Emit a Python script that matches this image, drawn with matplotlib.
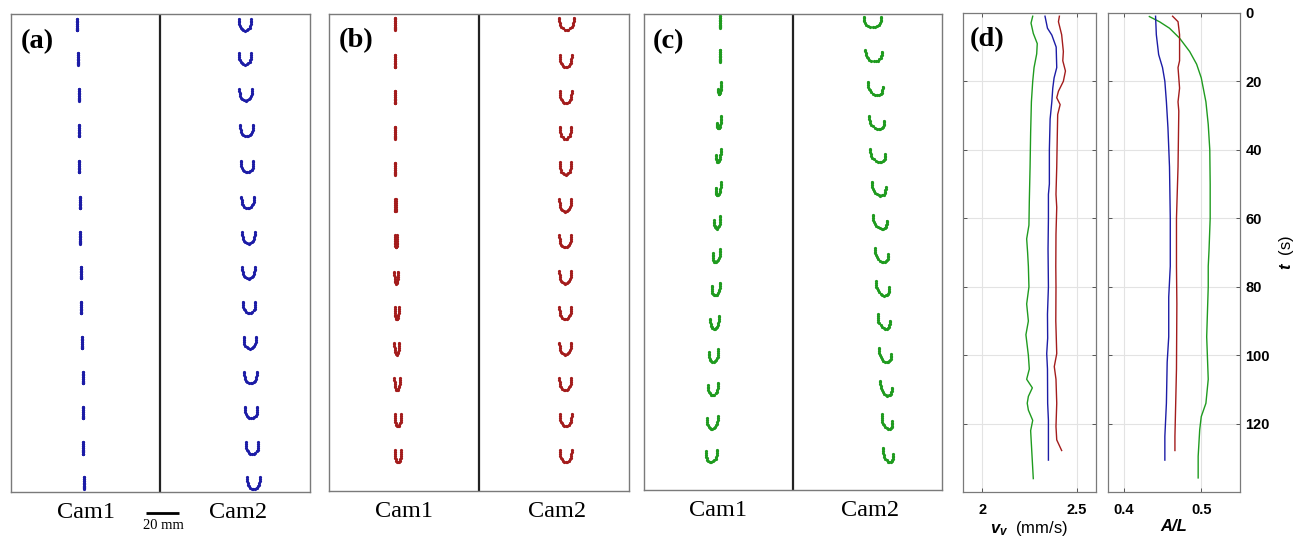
import numpy as np
import matplotlib
matplotlib.use('Agg')
import matplotlib.pyplot as plt

plt.rcParams['mathtext.fontset'] = 'custom'
plt.rcParams['mathtext.it'] = 'Liberation Sans:italic:bold'
plt.rcParams['mathtext.rm'] = 'Liberation Sans'

# unit fiber template (front view of the U), x in [-1, 1], y from tips (0) to bottom (1)
u_x = [-1.00, -1.00, -0.99, -0.95, -0.86, -0.72, -0.52, -0.27, 0.00,
       0.27, 0.52, 0.72, 0.86, 0.95, 0.99, 1.00, 1.00]
u_y = [0.00, 0.14, 0.30, 0.46, 0.62, 0.76, 0.88, 0.97, 1.00,
       0.97, 0.88, 0.76, 0.62, 0.46, 0.30, 0.14, 0.00]

# snapshots, positions in mm (x from panel left, y from panel top)
a_y = [6.5, 27.3, 49.1, 70.7, 92.5, 114.3, 135.8, 157.0, 178.0, 199.4, 220.6, 241.8, 263.4, 284.6]
a_x1 = [39.8, 40.4, 40.8, 41.0, 41.2, 41.5, 41.8, 42.1, 42.4, 42.8, 43.3, 43.5, 43.6, 44.1]
a_x2 = [141.8, 141.8, 142.2, 142.7, 143.1, 143.4, 143.9, 143.9, 144.3, 144.7, 145.1, 145.5, 146.1, 146.9]
a_w1, a_h1, a_t1 = 0.0, 6.9, 0.0
a_w2, a_h2, a_t2 = 7.6, 7.1, 0.0

b_y = [6.1, 28.8, 50.7, 72.3, 94.1, 116.4, 138.2, 160.2, 181.8, 203.4, 225.0, 246.8, 268.7]
b_x1 = [40.0, 40.0, 40.0, 40.0, 40.0, 40.0, 40.4, 40.4, 40.8, 40.8, 41.0, 41.5, 41.5]
b_w1 = [0.0, 0.0, 0.0, 0.0, 0.0, 0.8, 1.6, 2.0, 2.4, 2.8, 3.2, 3.6, 4.0]
b_x2 = [143.4, 143.0, 143.0, 142.8, 142.8, 142.6, 142.6, 142.6, 142.6, 142.6, 142.6, 143.0, 143.0]
b_w2 = [8.8, 6.9, 6.9, 6.9, 6.9, 6.9, 6.9, 6.9, 6.9, 6.9, 6.9, 6.9, 6.9]
b_h1, b_t1 = 7.3, 0.0
b_h2, b_t2 = 7.5, 0.0

c_y = [4.8, 25.6, 45.9, 66.7, 86.9, 107.1, 127.3, 147.7, 167.9, 188.1, 208.5, 228.7, 249.1, 269.3]
c_x1 = [46.1, 46.1, 46.1, 45.7, 45.3, 45.1, 44.6, 44.0, 43.6, 43.0, 42.4, 42.0, 41.6, 41.0]
c_w1 = [0.0, 0.0, 1.8, 2.4, 2.8, 3.2, 3.8, 4.5, 4.9, 5.3, 5.7, 5.9, 6.3, 6.9]
c_h1 = [6.9, 6.9, 4.5, 5.0, 5.5, 6.0, 6.3, 6.5, 6.8, 7.0, 7.0, 7.0, 7.0, 7.0]
c_t1 = [0.0, 0.0, -2.0, -2.0, -1.8, -1.6, -1.4, -1.2, -1.0, -0.9, -0.8, -0.7, -0.6, -0.5]
c_x2 = [139.0, 139.6, 140.6, 141.4, 142.0, 142.6, 143.4, 144.4, 145.0, 145.7, 146.5, 147.1, 147.7, 148.3]
c_w2 = [10.5, 9.9, 8.9, 8.9, 8.9, 8.5, 8.3, 8.1, 7.7, 7.3, 7.3, 6.9, 6.5, 6.1]
c_h2 = 6.5
c_t2 = [0.0, 0.5, 1.5, 1.5, 1.6, 1.6, 1.7, 1.8, 1.8, 1.9, 1.9, 2.0, 2.0, 2.0]

# (d) time series
t_vv_blue = [1, 4.5, 6.5, 10, 16, 19, 22, 26, 31, 40, 50, 53, 60, 69, 80, 88, 95, 99.5, 104, 114, 119, 130.6]
vv_blue = [2.332, 2.345, 2.368, 2.391, 2.394, 2.380, 2.373, 2.368, 2.359, 2.355, 2.355, 2.350, 2.350,
           2.348, 2.350, 2.345, 2.346, 2.341, 2.345, 2.346, 2.350, 2.350]
t_vv_red = [1, 2.6, 6.4, 11.3, 14, 17, 20, 22.9, 24.8, 26.8, 29.7, 35.5, 45, 53, 56.8, 64.6, 74, 80,
            90, 99.5, 103.3, 107, 114, 120.8, 124.7, 127.8]
vv_red = [2.408, 2.403, 2.420, 2.429, 2.426, 2.440, 2.429, 2.403, 2.394, 2.412, 2.399, 2.397, 2.394,
          2.390, 2.394, 2.390, 2.389, 2.390, 2.389, 2.394, 2.381, 2.390, 2.394, 2.390, 2.394, 2.420]
t_vv_green = [1, 3, 6, 9, 12, 16, 20, 26, 35, 45, 55, 62, 66, 70, 74, 80, 85, 90, 94, 100, 104, 107,
              109.5, 112, 114, 116, 119, 122, 128, 136]
vv_green = [2.267, 2.258, 2.270, 2.291, 2.288, 2.274, 2.267, 2.260, 2.256, 2.253, 2.249, 2.247, 2.235,
            2.240, 2.244, 2.247, 2.235, 2.244, 2.231, 2.244, 2.249, 2.235, 2.265, 2.244, 2.238, 2.244,
            2.267, 2.256, 2.262, 2.270]

t_al_blue = [1, 6.4, 12.2, 16, 20, 26, 33.6, 45, 60, 74, 83, 94.6, 102, 114, 123.7, 130.6]
al_blue = [0.441, 0.442, 0.445, 0.450, 0.453, 0.455, 0.457, 0.459, 0.460, 0.460, 0.458, 0.458, 0.456,
           0.455, 0.453, 0.453]
t_al_red = [1, 2.6, 6.4, 14, 16, 22, 26, 28.7, 45, 60, 74, 85, 104, 114, 123.7, 127.8]
al_red = [0.463, 0.470, 0.472, 0.472, 0.470, 0.472, 0.470, 0.471, 0.470, 0.468, 0.468, 0.4685, 0.468,
          0.467, 0.466, 0.466]
t_al_green = [1.1, 2.6, 4.5, 7.4, 11.3, 15, 19, 26, 32.6, 40, 50, 60, 69.4, 74, 80, 94.6, 107, 114,
              117.9, 121.7, 129.5, 135.8]
al_green = [0.433, 0.446, 0.459, 0.472, 0.485, 0.494, 0.500, 0.506, 0.509, 0.511, 0.5115, 0.5115, 0.510,
            0.509, 0.509, 0.507, 0.509, 0.506, 0.500, 0.498, 0.496, 0.496]

blue = '#1c1ca6'
red = '#a31c1c'
green = '#1f9b1f'

serif = 'Liberation Serif'
sans = 'Liberation Sans'


def draw_fiber(ax, cx, cy, w, h, tilt, color):
    ux = np.array(u_x)
    uy = np.array(u_y)
    x = cx + ux * w / 2
    y = cy - h / 2 + uy * h + ux * tilt
    ax.plot(x, y, '-', color=color, lw=0.6, marker='o', ms=2.3, mfc=color, mec=color, mew=0)


def snapshot_panel(ax, label, color, ys, x1, w1, h1, t1, x2, w2, h2, t2):
    n = len(ys)
    cols = [np.broadcast_to(np.asarray(v, dtype=float), (n,)) for v in (x1, w1, h1, t1, x2, w2, h2, t2)]
    for i in range(n):
        draw_fiber(ax, cols[0][i], ys[i], cols[1][i], cols[2][i], cols[3][i], color)
        draw_fiber(ax, cols[4][i], ys[i], cols[5][i], cols[6][i], cols[7][i], color)
    ax.set_xlim(0, 181)
    ax.set_ylim(290, 0)
    ax.axvline(90.3, color='#222222', lw=1.6)
    ax.set_xticks([])
    ax.set_yticks([])
    for s in ax.spines.values():
        s.set_color('#7a7a7a')
        s.set_linewidth(1.0)
    ax.text(0.03, 0.943, label, transform=ax.transAxes, ha='left', va='center',
            fontsize=20.5, fontweight='bold', family=serif)
    ax.text(0.25, -0.043, 'Cam1', transform=ax.transAxes, ha='center', va='center',
            fontsize=17.5, family=serif)
    ax.text(0.76, -0.043, 'Cam2', transform=ax.transAxes, ha='center', va='center',
            fontsize=17.5, family=serif)


fig = plt.figure(figsize=(12.96, 5.41), dpi=100)

ax_a = fig.add_axes([0.00872, 0.09057, 0.23025, 0.88355])
ax_b = fig.add_axes([0.25409, 0.09187, 0.23102, 0.88281])
ax_c = fig.add_axes([0.49691, 0.09372, 0.22971, 0.88041])

snapshot_panel(ax_a, '(a)', blue, a_y, a_x1, a_w1, a_h1, a_t1, a_x2, a_w2, a_h2, a_t2)
snapshot_panel(ax_b, '(b)', red, b_y, b_x1, b_w1, b_h1, b_t1, b_x2, b_w2, b_h2, b_t2)
snapshot_panel(ax_c, '(c)', green, c_y, c_x1, c_w1, c_h1, c_t1, c_x2, c_w2, c_h2, c_t2)

# scale bar
ax_a.plot([82, 102], [302.6, 302.6], color='k', lw=2, clip_on=False, solid_capstyle='butt')
ax_a.text(92, 310.5, '20 mm', ha='center', va='center', fontsize=10.5, family=serif)

# (d) velocity and A/L
ax_v = fig.add_axes([0.74329, 0.09002, 0.10216, 0.88632])
ax_r = fig.add_axes([0.85517, 0.09002, 0.10162, 0.88632])

ax_v.plot(vv_green, t_vv_green, color=green, lw=1.0)
ax_v.plot(vv_blue, t_vv_blue, color=blue, lw=1.0)
ax_v.plot(vv_red, t_vv_red, color=red, lw=1.0)
ax_r.plot(al_green, t_al_green, color=green, lw=1.0)
ax_r.plot(al_blue, t_al_blue, color=blue, lw=1.0)
ax_r.plot(al_red, t_al_red, color=red, lw=1.0)

for ax in (ax_v, ax_r):
    ax.set_ylim(140, 0)
    ax.set_yticks([0, 20, 40, 60, 80, 100, 120])
    ax.grid(True, color='#e3e3e3', lw=0.8)
    ax.set_axisbelow(True)
    ax.tick_params(direction='in', length=3, width=0.7, color='#555555', top=True, right=True,
                   labelsize=10.5)
    for s in ax.spines.values():
        s.set_color('#7a7a7a')
        s.set_linewidth(0.9)
    ax.tick_params(axis='x', pad=7.5)

ax_v.set_xlim(1.9, 2.6)
ax_v.set_xticks([2, 2.5])
ax_v.set_xticklabels(['2', '2.5'], fontweight='bold', family=sans)
ax_v.tick_params(axis='y', labelleft=False)
ax_v.set_xlabel(r'$v_v$  (mm/s)', fontsize=12, family=sans, labelpad=2)
ax_v.text(0.05, 0.945, '(d)', transform=ax_v.transAxes, ha='left', va='center',
          fontsize=20.5, fontweight='bold', family=serif)

ax_r.set_xlim(0.38, 0.55)
ax_r.set_xticks([0.4, 0.5])
ax_r.set_xticklabels(['0.4', '0.5'], fontweight='bold', family=sans)
ax_r.tick_params(axis='y', labelleft=False, labelright=True, pad=4)
ax_r.set_yticklabels(['0', '20', '40', '60', '80', '100', '120'], fontweight='bold', family=sans)
ax_r.set_xlabel('A/L', fontsize=12, family=sans, fontweight='bold', fontstyle='italic', labelpad=2)
ax_r.yaxis.set_label_position('right')
ax_r.set_ylabel(r'$t$  (s)', fontsize=12, family=sans, labelpad=5)

fig.savefig('out.png', dpi=100)
